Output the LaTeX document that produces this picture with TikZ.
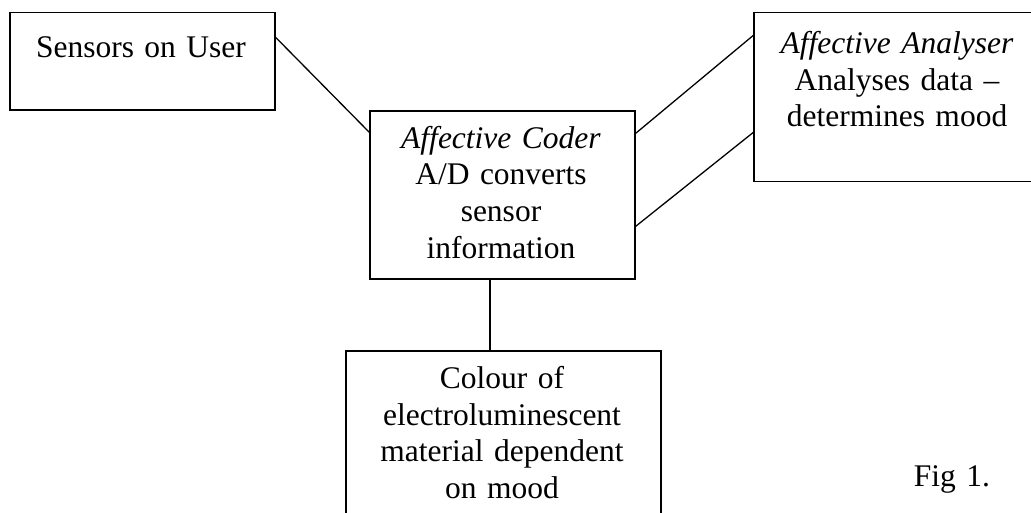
\documentclass[tikz,border=0pt]{standalone}
\usepackage{fontspec}
\setmainfont{Liberation Serif}
\begin{document}
\begin{tikzpicture}[x=1pt,y=-1pt,
  frame/.style={draw, line width=1.3pt, inner sep=0pt},
  txt/.style={anchor=base, inner sep=0pt, text width=320pt, align=center,
    font=\fontsize{31.5}{36.7}\selectfont},
  link/.style={line width=1.3pt}]
\useasboundingbox (0,0) rectangle (1031,512);

% boxes
\node[frame, minimum width=265pt, minimum height=97.3pt] (sensors) at (142.5,61.35) {};
\node[frame, minimum width=265pt, minimum height=168pt] (coder) at (502.5,195) {};
\node[frame, minimum width=286pt, minimum height=169pt] (analyser) at (897,97.2) {};
\node[frame, minimum width=315pt, minimum height=167pt] (display) at (503.5,434.5) {};

% box texts
\node[txt] (sensorsText) at (141,57) {Sensors on User};
\node[txt] (coderText) at (501,148) {\textit{Affective Coder}\\A/D converts\\sensor\\information};
\node[txt] (analyserText) at (897,53.3) {\textit{Affective Analyser}\\Analyses data --\\determines mood};
\node[txt] (displayText) at (502,388.3) {Colour of\\electroluminescent\\material dependent\\on mood};
\node[txt] (caption) at (952,486.7) {Fig 1.};

% connectors
\draw[link] ([yshift=-25.3pt]sensors.north east) -- ([yshift=-22pt]coder.north west);
\draw[link] ([yshift=-23pt]coder.north east) -- ([yshift=-23.3pt]analyser.north west);
\draw[link] ([yshift=-116pt]coder.north east) -- ([yshift=-120.3pt]analyser.north west);
\draw[link] ([xshift=-12.5pt]coder.south) -- ([xshift=-13.5pt]display.north);
\end{tikzpicture}
\end{document}
